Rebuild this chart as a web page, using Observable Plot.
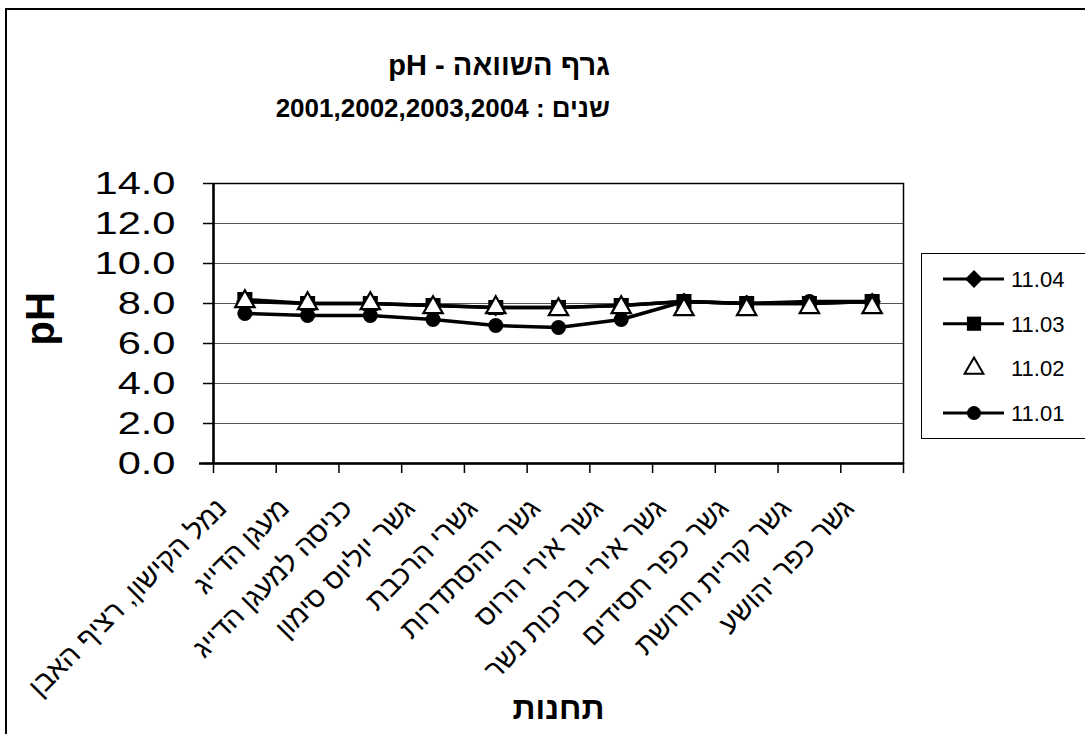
<!DOCTYPE html>
<html><head><meta charset="utf-8">
<script src="https://cdn.jsdelivr.net/npm/d3@7"></script>
<script src="https://cdn.jsdelivr.net/npm/@observablehq/plot@0.6"></script>
<style>
body{margin:0;background:#fff;overflow:hidden;}
#wrap{position:relative;width:1085px;height:734px;overflow:hidden;font-family:"Liberation Sans",Arial,"DejaVu Sans",sans-serif;background:#fff;}
#frame{position:absolute;left:5px;top:8px;width:1200px;height:900px;border-left:2px solid #000;border-top:2px solid #000;}
.t{position:absolute;font-weight:bold;white-space:pre;line-height:1;color:#000;}
#title{right:475px;top:51px;font-size:29px;}
#subtitle{right:475px;top:95px;font-size:26px;}
#chart{position:absolute;left:0;top:0;}
#legend{position:absolute;left:921px;top:253px;width:200px;height:184px;border:1.5px solid #000;background:#fff;}
</style></head><body>
<div id="wrap">
  <div id="frame"></div>
  <div id="chart"></div>
  <div id="title" class="t" dir="rtl">גרף השוואה - pH</div>
  <div id="subtitle" class="t" dir="rtl">שנים : 2001,2002,2003,2004</div>
  <div id="legend"></div>
</div>
<script>
// ---- data ----
const stations = [
  "נמל הקישון, רציף האבן",
  "מעגן הדייג",
  "כניסה למעגן הדייג",
  "גשר יוליוס סימון",
  "גשרי הרכבת",
  "גשר ההסתדרות",
  "גשר אירי הרוס",
  "גשר אירי בריכות נשר",
  "גשר כפר חסידים",
  "גשר קריית חרושת",
  "גשר כפר יהושע"
];
const seriesNames = ["11.04", "11.03", "11.02", "11.01"];
const ph1104 = [8.1, 8.0, 8.0, 7.9, 7.8, 7.8, 7.9, 8.1, 8.0, 8.0, 8.1];
const ph1103 = [8.2, 8.0, 8.0, 7.9, 7.8, 7.8, 7.9, 8.1, 8.0, 8.0, 8.1];
const ph1102 = [8.1, 8.0, 8.0, 7.8, 7.8, 7.7, 7.8, 7.7, 7.7, 7.8, 7.8];
const ph1101 = [7.5, 7.4, 7.4, 7.2, 6.9, 6.8, 7.2, 8.1, 8.0, 8.1, 8.1];
const yTicks = [0, 2, 4, 6, 8, 10, 12, 14];
const titleY = "pH";
const titleX = "תחנות";

const rows = (name, vals) => stations.map((s, i) => ({station: s, ph: vals[i], series: name}));
const d1104 = rows(seriesNames[0], ph1104);
const d1103 = rows(seriesNames[1], ph1103);
const d1102 = rows(seriesNames[2], ph1102);
const d1101 = rows(seriesNames[3], ph1101);

const W = 1085, H = 734, mL = 213, mR = 182, mT = 183, mB = 271;
const step = (W - mL - mR) / stations.length;
const FONT = "Liberation Sans, Arial, DejaVu Sans, sans-serif";

const chart = Plot.plot({
  width: W, height: H,
  marginTop: mT, marginRight: mR, marginBottom: mB, marginLeft: mL,
  style: {fontFamily: FONT, color: "black", background: "transparent", overflow: "visible"},
  x: {type: "point", domain: stations, padding: 0.5, round: false},
  y: {domain: [0, 14]},
  marks: [
    Plot.gridY(yTicks, {stroke: "#555", strokeOpacity: 1, strokeWidth: 1}),
    Plot.frame({stroke: "black", strokeWidth: 1.5}),
    Plot.ruleY([0], {stroke: "black", strokeWidth: 2.5, insetLeft: -14}),
    Plot.ruleX([stations[0]], {stroke: "black", strokeWidth: 2.5, dx: -step / 2}),
    Plot.axisY(yTicks, {tickFormat: d => d.toFixed(1), tickSize: 10, tickPadding: 28, fontSize: 32, label: null, strokeWidth: 1.5}),
    Plot.axisX({tickSize: 10, tickFormat: () => "", dx: -step / 2, label: null, strokeWidth: 1.5}),
    Plot.axisX([stations[stations.length - 1]], {tickSize: 10, tickFormat: () => "", dx: step / 2, label: null, strokeWidth: 1.5}),
    Plot.axisX({tickSize: 0, tickRotate: -45, tickPadding: 40, dx: -23, fontSize: 28, label: null}),
    Plot.text([titleY], {frameAnchor: "left", dx: -160, dy: 22, rotate: -90, fontSize: 40, fontWeight: "bold", lineAnchor: "bottom"}),
    Plot.text([titleX], {frameAnchor: "bottom", dy: 255, fontSize: 32, fontWeight: "bold", lineAnchor: "bottom"}),
    // 11.01 circles
    Plot.line(d1101, {x: "station", y: "ph", stroke: "black", strokeWidth: 3.5}),
    Plot.dot(d1101, {x: "station", y: "ph", symbol: "circle", r: 7.5, fill: "black", stroke: "none"}),
    // 11.04 diamonds
    Plot.line(d1104, {x: "station", y: "ph", stroke: "black", strokeWidth: 3.5}),
    Plot.dot(d1104, {x: "station", y: "ph", symbol: "diamond2", r: 8, fill: "black", stroke: "none"}),
    // 11.03 squares
    Plot.line(d1103, {x: "station", y: "ph", stroke: "black", strokeWidth: 3.5}),
    Plot.dot(d1103, {x: "station", y: "ph", symbol: "square", r: 8.5, fill: "black", stroke: "none"}),
    // 11.02 triangles (no line)
    Plot.dot(d1102, {x: "station", y: "ph", symbol: "triangle", r: 7.2, fill: "white", stroke: "black", strokeWidth: 2.2})
  ]
});
// the original Excel y labels are horizontally stretched
d3.select(chart).selectAll('g[aria-label="y-axis tick label"] text').each(function() {
  const t = this.getAttribute("transform") || "";
  this.setAttribute("transform", t + " scale(1.3,1)");
});
document.getElementById("chart").appendChild(chart);

// ---- legend ----
const legendSym = {"11.04": d3.symbolDiamond2, "11.03": d3.symbolSquare, "11.02": d3.symbolTriangle, "11.01": d3.symbolCircle};
const legendSize = {"11.04": Math.PI * 64, "11.03": Math.PI * 64, "11.02": Math.PI * 49, "11.01": Math.PI * 49};
const lsvg = d3.select("#legend").append("svg").attr("width", 200).attr("height", 184);
seriesNames.forEach((name, i) => {
  const cy = 25 + i * 44.7;
  const g = lsvg.append("g");
  if (name !== "11.02") {
    g.append("line").attr("x1", 21).attr("x2", 82).attr("y1", cy).attr("y2", cy).attr("stroke", "black").attr("stroke-width", 3);
  }
  g.append("path").attr("transform", `translate(52,${cy})`)
    .attr("d", d3.symbol(legendSym[name], legendSize[name])())
    .attr("fill", name === "11.02" ? "white" : "black")
    .attr("stroke", name === "11.02" ? "black" : "none").attr("stroke-width", 2);
  g.append("text").attr("x", 89).attr("y", cy).attr("dy", "0.36em")
    .attr("font-family", FONT).attr("font-size", 22).text(name);
});
</script>
</body></html>
